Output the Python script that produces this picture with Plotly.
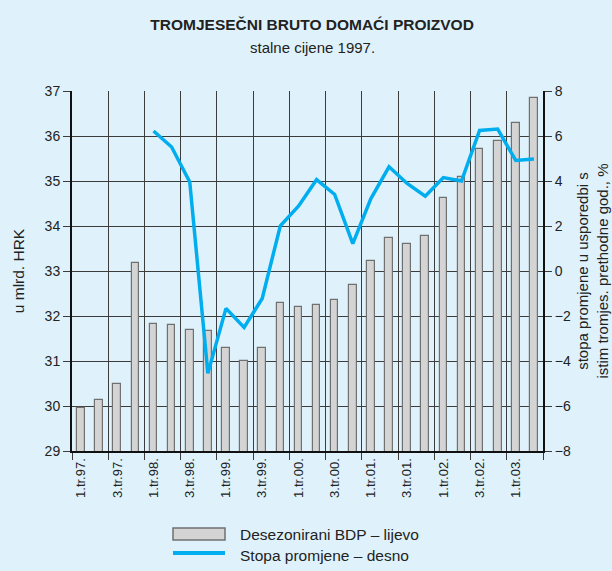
import plotly.graph_objects as go

# quarters 1.tr.97. .. 2.tr.03.
quarters = [f"{q}.tr.{y:02d}." for y in [97, 98, 99, 0, 1, 2, 3] for q in [1, 2, 3, 4]][:26]

# desezonirani BDP, mlrd. HRK (left axis)
gdp = [29.95, 30.13, 30.48, 33.18, 31.82, 31.80, 31.69, 31.67,
       31.29, 30.99, 31.29, 32.30, 32.20, 32.24, 32.36, 32.69,
       33.23, 33.74, 33.61, 33.78, 34.62, 35.09, 35.72, 35.90,
       36.30, 36.84]

# stopa promjene, % (right axis) - starts at 1.tr.98.
growth = [None, None, None, None,
          6.22, 5.51, 3.96, -4.55, -1.66, -2.51, -1.22, 2.01,
          2.88, 4.06, 3.40, 1.22, 3.22, 4.63, 3.89, 3.32,
          4.15, 4.00, 6.25, 6.31, 4.91, 4.98]

x = list(range(len(quarters)))
tick_idx = x[::2]
tick_text = [quarters[i] for i in tick_idx]
bounds = [i - 0.5 for i in range(0, len(quarters) + 1, 2)]

bg = "#dff2fc"
grid = "#3c3c3c"
txt = "#222222"
bar_fill = "#d4d4d4"
bar_edge = "#707070"
line_col = "#00aeef"
font = "Liberation Sans, Arial, sans-serif"

W, H = 612, 571
L, R, T, B = 72, 69, 91, 120
pw, ph = W - L - R, H - T - B


def px_x(p):
    return (p - L) / pw


def px_y(p):
    return (H - B - p) / ph


fig = go.Figure()
fig.add_trace(go.Bar(
    x=x, y=gdp, name="Desezonirani BDP – lijevo",
    marker=dict(color=bar_fill, line=dict(color=bar_edge, width=1.2)),
    width=0.42, yaxis="y",
))
fig.add_trace(go.Scatter(
    x=x, y=growth, name="Stopa promjene – desno",
    mode="lines", line=dict(color=line_col, width=3.5),
    yaxis="y2",
))

fig.update_layout(
    width=W, height=H,
    paper_bgcolor=bg, plot_bgcolor=bg,
    margin=dict(l=L, r=R, t=T, b=B, autoexpand=False),
    font=dict(family=font, size=14, color=txt),
    title=dict(text="<b>TROMJESEČNI BRUTO DOMAĆI PROIZVOD</b>",
               x=0.51, xanchor="center", y=1 - 25 / H, yanchor="middle",
               font=dict(size=15.5, color=txt)),
    showlegend=False,
    bargap=0,
    xaxis=dict(
        range=[-0.5, len(quarters) - 0.5],
        tickmode="array", tickvals=tick_idx, ticktext=tick_text,
        tickangle=-90, ticks="", showgrid=False, zeroline=False,
        tickfont=dict(size=13), automargin=False,
        showline=True, linecolor="#111", linewidth=2,
        minor=dict(tickmode="array", tickvals=bounds, ticks="outside",
                   ticklen=7, tickcolor=grid, showgrid=True,
                   gridcolor=grid, gridwidth=1),
    ),
    yaxis=dict(
        range=[29, 37], dtick=1, showgrid=True, gridcolor=grid, gridwidth=1,
        ticks="outside", ticklen=7, tickcolor=grid, zeroline=False,
        showline=True, linecolor="#111", linewidth=2, automargin=False,
        title=dict(text="u mlrd. HRK", standoff=16, font=dict(size=15.5)),
        tickfont=dict(size=14),
    ),
    yaxis2=dict(
        range=[-8, 8], dtick=2, overlaying="y", side="right",
        showgrid=False, zeroline=False, automargin=False,
        ticks="outside", ticklen=7, tickcolor=grid,
        showline=True, linecolor="#111", linewidth=2,
        title=dict(text="stopa promjene u usporedbi s<br>istim tromjes. prethodne god., %",
                   standoff=8, font=dict(size=15)),
        tickfont=dict(size=14), tickformat="d",
    ),
)

fig.add_annotation(text="stalne cijene 1997.", xref="paper", yref="paper",
                   x=0.51, y=px_y(48), yanchor="middle", showarrow=False,
                   font=dict(size=15, color=txt))

# legend drawn by hand: wide box and line symbols as in the original
fig.add_shape(type="rect", xref="paper", yref="paper",
              x0=px_x(173), x1=px_x(225), y0=px_y(540), y1=px_y(528),
              fillcolor=bar_fill, line=dict(color=bar_edge, width=1.5))
fig.add_shape(type="line", xref="paper", yref="paper",
              x0=px_x(173), x1=px_x(225), y0=px_y(553), y1=px_y(553),
              line=dict(color=line_col, width=4))
fig.add_annotation(text="Desezonirani BDP – lijevo", xref="paper", yref="paper",
                   x=px_x(238), y=px_y(534), xanchor="left", yanchor="middle",
                   showarrow=False, font=dict(size=15.5, color=txt))
fig.add_annotation(text="Stopa promjene – desno", xref="paper", yref="paper",
                   x=px_x(238), y=px_y(555), xanchor="left", yanchor="middle",
                   showarrow=False, font=dict(size=15.5, color=txt))

# remove the default page margin so the figure fills the window
fig.write_html("out.html", config={"displayModeBar": False},
               post_script="document.body.style.margin='0';document.body.style.overflow='hidden';")
